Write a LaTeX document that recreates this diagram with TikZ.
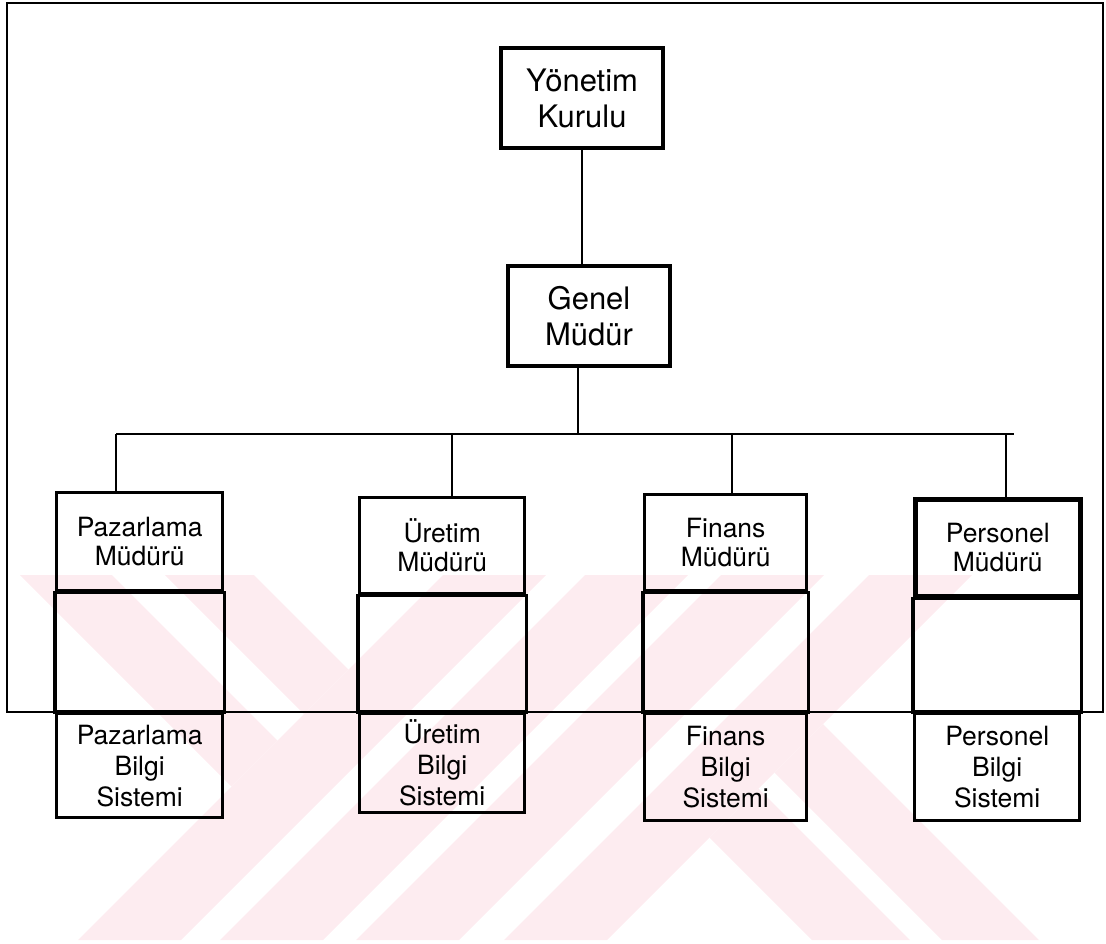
\documentclass[tikz,border=0pt]{standalone}
\usepackage{fontspec}
\setmainfont{TeX Gyre Heros}
\definecolor{wmpink}{RGB}{253,236,240}
\begin{document}
\begin{tikzpicture}[x=1pt,y=-1pt,
  wire/.style={line width=2.8pt},
  outline/.style={line width=2.6pt},
  wmband/.style={fill=wmpink,draw=none},
  topbox/.style={draw,line width=3.2pt,inner sep=0pt,align=center,
    font=\fontsize{31}{36}\selectfont,minimum width=162pt,minimum height=100pt},
  unitbox/.style={draw,line width=3.4pt,inner sep=0pt,align=center,anchor=north west,
    font=\fontsize{26.5}{29}\selectfont},
  infobox/.style={draw,line width=3.4pt,inner sep=0pt,align=center,anchor=north west,
    font=\fontsize{26.5}{31}\selectfont},
  column/.style={line width=3.4pt}
]
\useasboundingbox (0,0) rectangle (1106,943);

% faint background bands
\begin{scope}
  \clip (0,575) rectangle (1106,940);
  \foreach \a in {138,280,416,564}
    \fill[wmband] (\a+305,575) -- (\a+408,575) -- (\a+43,940) -- (\a-60,940) -- cycle;
  \fill[wmband] (20,575) -- (112,575) -- (277.5,740.5) -- (231.5,786.5) -- cycle;
  \fill[wmband] (165,575) -- (254,575) -- (348.5,669.5) -- (304,714) -- cycle;
  \fill[wmband] (709.5,837.5) -- (758.5,788.5) -- (910,940) -- (812,940) -- cycle;
  \fill[wmband] (774.5,772.5) -- (823,724) -- (1039,940) -- (942,940) -- cycle;
\end{scope}

% outer frame
\draw[outline] (7,3) rectangle (1103,712);

% top of the hierarchy
\node[topbox] (yon) at (582,98) {Yönetim\\Kurulu};
\node[topbox] (gen) at (589,316) {Genel\\Müdür};

% department managers
\node[unitbox,minimum width=166pt,minimum height=98pt] (pazm) at (55,491) {Pazarlama\\Müdürü};
\node[unitbox,minimum width=165pt,minimum height=96pt] (urem) at (358,496) {Üretim\\Müdürü};
\node[unitbox,minimum width=162pt,minimum height=96pt] (finm) at (643,493) {Finans\\Müdürü};
\node[unitbox,line width=4.6pt,minimum width=165pt,minimum height=97pt] (perm) at (913,497) {Personel\\Müdürü};

% information systems
\node[infobox,minimum width=166pt,minimum height=104pt] (pazb) at (55,712) {Pazarlama\\Bilgi\\Sistemi};
\node[infobox,minimum width=165pt,minimum height=99pt] (ureb) at (358,712) {Üretim\\Bilgi\\Sistemi};
\node[infobox,minimum width=162pt,minimum height=107pt] (finb) at (643,712) {Finans\\Bilgi\\Sistemi};
\node[infobox,minimum width=165pt,minimum height=107pt] (perb) at (913,712) {Personel\\Bilgi\\Sistemi};

% empty middle sections of each column
\draw[column] (pazm.south west) rectangle (pazb.north east);
\draw[column] (urem.south west) rectangle (ureb.north east);
\draw[column] (finm.south west) rectangle (finb.north east);
\draw[column] (perm.south west) rectangle (perb.north east);

% connectors
\coordinate (gdrop) at (578,434);
\coordinate (bl) at (116,434);
\coordinate (br) at (1014,434);
\coordinate (d1) at (116,434);
\coordinate (d2) at (452,434);
\coordinate (d3) at (732,434);
\coordinate (d4) at (1006,434);
\draw[wire] (yon.south) -- (yon.south |- gen.north);
\draw[wire] (gdrop |- gen.south) -- (gdrop);
\draw[wire] (bl) -- (br);
\draw[wire] (d1) -- (d1 |- pazm.north);
\draw[wire] (d2) -- (d2 |- urem.north);
\draw[wire] (d3) -- (d3 |- finm.north);
\draw[wire] (d4) -- (d4 |- perm.north);
\end{tikzpicture}
\end{document}
